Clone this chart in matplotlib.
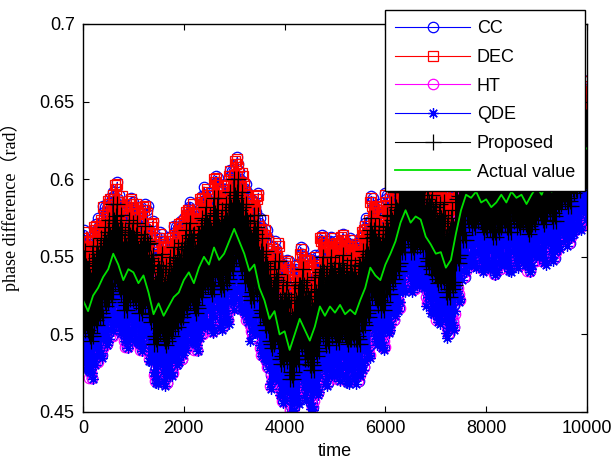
import matplotlib
matplotlib.use('Agg')
import matplotlib.pyplot as plt
import numpy as np

# actual phase difference, read every 100 samples
time = np.arange(0, 10001, 100)
actual = [0.522, 0.515, 0.525, 0.530, 0.537, 0.542, 0.552, 0.545, 0.535, 0.542,
          0.540, 0.533, 0.538, 0.527, 0.513, 0.520, 0.512, 0.518, 0.524, 0.527,
          0.535, 0.540, 0.533, 0.543, 0.550, 0.545, 0.556, 0.548, 0.552, 0.560,
          0.568, 0.560, 0.552, 0.541, 0.545, 0.530, 0.522, 0.510, 0.515, 0.500,
          0.502, 0.490, 0.500, 0.510, 0.503, 0.496, 0.505, 0.518, 0.512, 0.518,
          0.514, 0.519, 0.513, 0.516, 0.513, 0.522, 0.530, 0.543, 0.538, 0.535,
          0.545, 0.552, 0.560, 0.572, 0.580, 0.572, 0.576, 0.574, 0.563, 0.558,
          0.552, 0.553, 0.543, 0.548, 0.565, 0.580, 0.590, 0.588, 0.592, 0.585,
          0.587, 0.582, 0.585, 0.590, 0.585, 0.592, 0.588, 0.590, 0.584, 0.590,
          0.595, 0.590, 0.598, 0.592, 0.600, 0.605, 0.602, 0.610, 0.612, 0.618,
          0.620]

methods = ['CC', 'DEC', 'HT', 'QDE', 'Proposed']
# estimates scatter around the actual value: peak / trough deviations
dev_hi = {'CC':       [0.042, 0.034, 0.045, 0.030, 0.040, 0.046, 0.037],
          'DEC':      [0.040, 0.044, 0.033, 0.042, 0.038, 0.045, 0.035],
          'HT':       [0.006, -0.004, 0.009, 0.002, -0.010],
          'QDE':      [0.002, -0.008, 0.004, -0.003],
          'Proposed': [0.020, 0.014, 0.024, 0.018, 0.032, 0.012, 0.022, 0.016]}
dev_lo = {'CC':       [-0.040, -0.030, -0.043, -0.036, -0.022],
          'DEC':      [-0.004, 0.010, -0.008, 0.004, -0.002],
          'HT':       [-0.041, -0.035, -0.045, -0.039, -0.030, -0.043],
          'QDE':      [-0.042, -0.037, -0.045, -0.040, -0.033, -0.044, -0.039],
          'Proposed': [-0.022, -0.016, -0.026, -0.019, -0.034, -0.014]}

styles = {'CC':       dict(color='#0000ff', marker='o', ms=7.5, mfc='none'),
          'DEC':      dict(color='#ff0000', marker='s', ms=7.5, mfc='none'),
          'HT':       dict(color='#ff00ff', marker='o', ms=7.5, mfc='none'),
          'QDE':      dict(color='#0000ff', marker=(8, 2, 0), ms=7.5),
          'Proposed': dict(color='#000000', marker='+', ms=12)}

plt.rcParams['font.family'] = ['Liberation Sans', 'DejaVu Sans']
fig = plt.figure(figsize=(6.16, 4.62), dpi=100)
ax = fig.add_axes([83/616, 50/462, 504/616, 388/462])

# each estimator reports 10 samples per 100-sample step of the read curve
t = np.arange(0, 10001, 10)
base = np.repeat(actual, 10)[:len(t)]
odd = np.arange(len(t)) % 2 == 1
for m in methods:
    hi = np.resize(dev_hi[m], len(t))
    lo = np.resize(dev_lo[m], len(t))
    y = base + np.where(odd, lo, hi)
    ax.plot(t, y, lw=0.8, label=m, markeredgewidth=0.9, **styles[m])
ax.plot(time, actual, color='#00e000', lw=1.3, label='Actual value')

ax.set_xlim(0, 10000)
ax.set_ylim(0.45, 0.7)
ax.set_xticks([0, 2000, 4000, 6000, 8000, 10000])
ax.set_yticks([0.45, 0.5, 0.55, 0.6, 0.65, 0.7])
ax.set_yticklabels(['0.45', '0.5', '0.55', '0.6', '0.65', '0.7'])
ax.tick_params(direction='in', length=4, width=0.8, top=True, right=True,
               labelsize=13, pad=6)
for s in ax.spines.values():
    s.set_linewidth(1.0)

ax.set_xlabel('time', fontsize=13, labelpad=4)
ax.set_ylabel('phase difference（rad）', fontsize=13,
              family=['Liberation Serif', 'Noto Sans CJK SC'])
ax.yaxis.set_label_coords(-0.125, 0.541)

leg = ax.legend(loc='upper right', bbox_to_anchor=(585/616, 1 - 10/462),
                bbox_transform=fig.transFigure, fontsize=13, fancybox=False,
                framealpha=1, edgecolor='black', handlelength=4.15,
                handletextpad=0.35, labelspacing=0.65, borderpad=0.56,
                borderaxespad=0)
leg.get_frame().set_linewidth(1.0)

fig.savefig('out.png', dpi=100)
